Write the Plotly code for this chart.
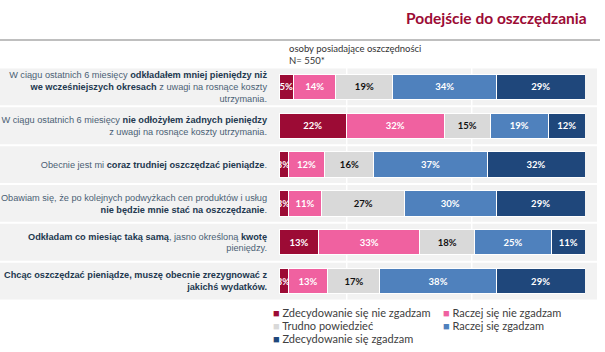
import plotly.graph_objects as go

# ---- data ----
statements = [
    "W ciągu ostatnich 6 miesięcy <b>odkładałem mniej pieniędzy niż</b><br><b>we wcześniejszych okresach</b> z uwagi na rosnące koszty<br>utrzymania.",
    "W ciągu ostatnich 6 miesięcy <b>nie odłożyłem żadnych pieniędzy</b><br>z uwagi na rosnące koszty utrzymania.",
    "Obecnie jest mi <b>coraz trudniej oszczędzać pieniądze</b>.",
    "Obawiam się, że po kolejnych podwyżkach cen produktów i usług<br><b>nie będzie mnie stać na oszczędzanie</b>.",
    "<b>Odkładam co miesiąc taką samą</b>, jasno określoną <b>kwotę</b><br>pieniędzy.",
    "<b>Chcąc oszczędzać pieniądze, muszę obecnie zrezygnować z</b><br><b>jakichś wydatków.</b>",
]
series_names = [
    "Zdecydowanie się nie zgadzam",
    "Raczej się nie zgadzam",
    "Trudno powiedzieć",
    "Raczej się zgadzam",
    "Zdecydowanie się zgadzam",
]
strongly_disagree = [4.7, 22, 3, 3, 13, 3]
rather_disagree = [13.9, 32, 12, 11, 33, 13]
hard_to_say = [18.6, 15, 16, 27, 18, 17]
rather_agree = [33.9, 19, 37, 30, 25, 38]
strongly_agree = [28.9, 12, 32, 29, 11, 29]
series_values = [strongly_disagree, rather_disagree, hard_to_say, rather_agree, strongly_agree]

title_text = "Podejście do oszczędzania"
subtitle_text = "osoby posiadające oszczędności<br>N= 550*"

colors = ["#9c0b35", "#f061a0", "#d9d9d9", "#4f81bd", "#1f477b"]
text_colors = ["white", "white", "#111111", "white", "white"]

W, H = 605, 352

# styled category labels (bold parts darker, like the original)
labels = [s.replace("<b>", "<span style='color:#22384f'><b>")
           .replace("</b>", "</b></span>") for s in statements]

fig = go.Figure()
for name, vals, c, tc in zip(series_names, series_values, colors, text_colors):
    fig.add_trace(go.Bar(
        y=labels, x=vals, name=name, orientation="h",
        marker=dict(color=c, line=dict(color="white", width=1)),
        text=[f"{round(v)}%" for v in vals],
        textposition="inside", insidetextanchor="middle", textangle=0,
        constraintext="none",
        textfont=dict(family="Lato", size=9.5, color=tc, weight="bold"),
        width=0.65, showlegend=False, hoverinfo="x+name",
    ))

shapes = []
for i in range(len(statements)):
    shapes.append(dict(type="rect", xref="paper", yref="y", x0=0, x1=597 / W,
                       y0=i - 0.475, y1=i + 0.475, fillcolor="#f2f2f2",
                       line=dict(width=0), layer="below"))
for gx in (346.7, 471.7):
    shapes.append(dict(type="line", xref="paper", yref="y", x0=gx / W, x1=gx / W,
                       y0=-0.5, y1=len(statements) - 0.5,
                       line=dict(color="white", width=1.5), layer="below"))
shapes.append(dict(type="line", xref="paper", yref="paper", x0=0, x1=600 / W,
                   y0=1 - 40 / H, y1=1 - 40 / H, line=dict(color="#bfbfbf", width=2)))

annotations = [
    dict(text=f"<b>{title_text}</b>", xref="paper", yref="paper", x=589 / W, y=1 - 18 / H,
         xanchor="right", yanchor="middle", showarrow=False,
         font=dict(family="Lato", size=15.5, color="#9c0b35")),
    dict(text=subtitle_text, xref="paper", yref="paper", x=287 / W, y=1 - 54.5 / H,
         xanchor="left", yanchor="middle", align="left", showarrow=False,
         font=dict(family="Lato", size=9.5, color="#333333")),
]
# legend (two columns, compact)
legend_pos = [(271, 312), (441, 312), (271, 325), (441, 325), (271, 338)]
for (lx, ly), name, c in zip(legend_pos, series_names, colors):
    annotations.append(dict(
        text=f"<span style='color:{c}'>■</span> {name}", xref="paper", yref="paper",
        x=lx / W, y=1 - ly / H, xanchor="left", yanchor="middle", showarrow=False,
        font=dict(family="Lato", size=11, color="#404040")))

fig.update_layout(
    width=W, height=H, barmode="stack",
    margin=dict(l=0, r=0, t=0, b=0),
    paper_bgcolor="white", plot_bgcolor="rgba(0,0,0,0)",
    xaxis=dict(domain=[279 / W, 585 / W], range=[0, 100], showgrid=False,
               zeroline=False, showticklabels=False, fixedrange=True, automargin=False),
    yaxis=dict(domain=[1 - 300.5 / H, 1 - 67.5 / H], range=[5.5, -0.5],
               showgrid=False, zeroline=False, ticks="", ticklabelstandoff=11,
               tickfont=dict(family="Liberation Sans", size=9.2, color="#4b5f74"),
               fixedrange=True, automargin=False),
    shapes=shapes, annotations=annotations,
)

fig.write_html("out.html")
